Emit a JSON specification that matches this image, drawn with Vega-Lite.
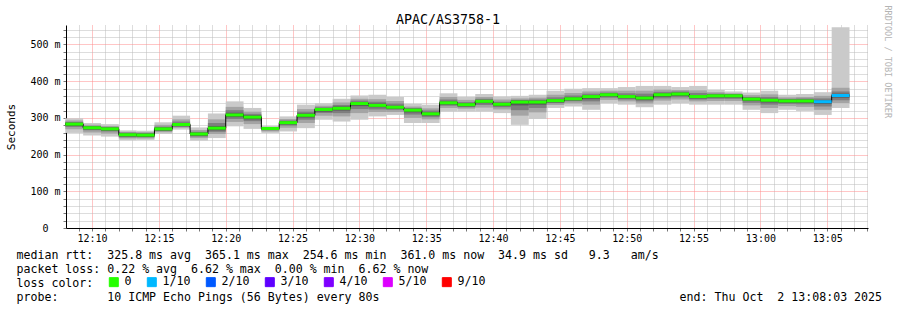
{
  "$schema": "https://vega.github.io/schema/vega-lite/v6.json",
  "width": 802,
  "height": 203,
  "autosize": {"type": "none"},
  "padding": {"left": 66, "top": 25, "right": 29, "bottom": 82},
  "background": "white",
  "config": {"view": {"stroke": null}, "font": "DejaVu Sans Mono"},
  "title": {"text": "APAC/AS3758-1", "font": "DejaVu Sans Mono", "fontSize": 13.3, "fontWeight": "normal", "color": "black", "anchor": "middle", "frame": "group", "dx": -19, "offset": -32, "baseline": "alphabetic"},
  "data": {"values": [
    {"t": 8.000, "t2": 9.333, "med": 283, "p1": 259, "p2": 269, "p3": 275, "p4": 278, "p5": 280, "p6": 285, "p7": 287, "p8": 289, "p9": 293, "p10": 299, "loss": "0"},
    {"t": 9.333, "t2": 10.667, "med": 273, "p1": 252, "p2": 260, "p3": 266, "p4": 268, "p5": 270, "p6": 275, "p7": 277, "p8": 278, "p9": 281, "p10": 286, "loss": "0"},
    {"t": 10.667, "t2": 12.000, "med": 270, "p1": 249, "p2": 257, "p3": 263, "p4": 265, "p5": 267, "p6": 272, "p7": 274, "p8": 275, "p9": 278, "p10": 283, "loss": "0"},
    {"t": 12.000, "t2": 13.333, "med": 254, "p1": 239, "p2": 244, "p3": 247, "p4": 249, "p5": 251, "p6": 256, "p7": 258, "p8": 260, "p9": 262, "p10": 266, "loss": "0"},
    {"t": 13.333, "t2": 14.667, "med": 253, "p1": 240, "p2": 244, "p3": 247, "p4": 248, "p5": 250, "p6": 255, "p7": 257, "p8": 259, "p9": 261, "p10": 265, "loss": "0"},
    {"t": 14.667, "t2": 16.000, "med": 270, "p1": 256, "p2": 261, "p3": 264, "p4": 265, "p5": 267, "p6": 272, "p7": 274, "p8": 276, "p9": 281, "p10": 288, "loss": "0"},
    {"t": 16.000, "t2": 17.333, "med": 282, "p1": 268, "p2": 273, "p3": 276, "p4": 277, "p5": 279, "p6": 284, "p7": 286, "p8": 290, "p9": 296, "p10": 306, "loss": "0"},
    {"t": 17.333, "t2": 18.667, "med": 256, "p1": 238, "p2": 245, "p3": 249, "p4": 251, "p5": 253, "p6": 258, "p7": 260, "p8": 262, "p9": 267, "p10": 274, "loss": "0"},
    {"t": 18.667, "t2": 20.000, "med": 272, "p1": 245, "p2": 256, "p3": 262, "p4": 266, "p5": 269, "p6": 274, "p7": 278, "p8": 286, "p9": 296, "p10": 312, "loss": "0"},
    {"t": 20.000, "t2": 21.333, "med": 308, "p1": 277, "p2": 289, "p3": 297, "p4": 302, "p5": 305, "p6": 310, "p7": 314, "p8": 321, "p9": 330, "p10": 345, "loss": "0"},
    {"t": 21.333, "t2": 22.667, "med": 302, "p1": 270, "p2": 283, "p3": 291, "p4": 296, "p5": 299, "p6": 304, "p7": 307, "p8": 311, "p9": 317, "p10": 327, "loss": "0"},
    {"t": 22.667, "t2": 24.000, "med": 271, "p1": 259, "p2": 263, "p3": 266, "p4": 267, "p5": 268, "p6": 273, "p7": 274, "p8": 275, "p9": 276, "p10": 277, "loss": "0"},
    {"t": 24.000, "t2": 25.333, "med": 287, "p1": 263, "p2": 273, "p3": 279, "p4": 282, "p5": 284, "p6": 289, "p7": 291, "p8": 293, "p9": 297, "p10": 304, "loss": "0"},
    {"t": 25.333, "t2": 26.667, "med": 307, "p1": 272, "p2": 286, "p3": 295, "p4": 301, "p5": 304, "p6": 309, "p7": 312, "p8": 317, "p9": 324, "p10": 336, "loss": "0"},
    {"t": 26.667, "t2": 28.000, "med": 323, "p1": 295, "p2": 306, "p3": 313, "p4": 317, "p5": 320, "p6": 325, "p7": 327, "p8": 329, "p9": 333, "p10": 340, "loss": "0"},
    {"t": 28.000, "t2": 29.333, "med": 326, "p1": 290, "p2": 304, "p3": 313, "p4": 320, "p5": 323, "p6": 328, "p7": 331, "p8": 335, "p9": 342, "p10": 352, "loss": "0"},
    {"t": 29.333, "t2": 30.667, "med": 339, "p1": 295, "p2": 313, "p3": 324, "p4": 332, "p5": 336, "p6": 341, "p7": 343, "p8": 347, "p9": 352, "p10": 361, "loss": "0"},
    {"t": 30.667, "t2": 32.000, "med": 334, "p1": 304, "p2": 316, "p3": 323, "p4": 329, "p5": 331, "p6": 336, "p7": 339, "p8": 344, "p9": 351, "p10": 363, "loss": "0"},
    {"t": 32.000, "t2": 33.333, "med": 329, "p1": 308, "p2": 316, "p3": 322, "p4": 325, "p5": 326, "p6": 331, "p7": 333, "p8": 339, "p9": 346, "p10": 357, "loss": "0"},
    {"t": 33.333, "t2": 34.667, "med": 321, "p1": 286, "p2": 300, "p3": 309, "p4": 315, "p5": 318, "p6": 323, "p7": 325, "p8": 327, "p9": 331, "p10": 338, "loss": "0"},
    {"t": 34.667, "t2": 36.000, "med": 311, "p1": 286, "p2": 296, "p3": 302, "p4": 306, "p5": 308, "p6": 313, "p7": 315, "p8": 320, "p9": 326, "p10": 336, "loss": "0"},
    {"t": 36.000, "t2": 37.333, "med": 341, "p1": 317, "p2": 327, "p3": 333, "p4": 336, "p5": 338, "p6": 343, "p7": 345, "p8": 350, "p9": 357, "p10": 367, "loss": "0"},
    {"t": 37.333, "t2": 38.667, "med": 336, "p1": 317, "p2": 325, "p3": 329, "p4": 331, "p5": 333, "p6": 338, "p7": 340, "p8": 343, "p9": 349, "p10": 357, "loss": "0"},
    {"t": 38.667, "t2": 40.000, "med": 345, "p1": 317, "p2": 328, "p3": 335, "p4": 340, "p5": 342, "p6": 347, "p7": 349, "p8": 352, "p9": 357, "p10": 365, "loss": "0"},
    {"t": 40.000, "t2": 41.333, "med": 337, "p1": 313, "p2": 323, "p3": 329, "p4": 332, "p5": 334, "p6": 339, "p7": 341, "p8": 344, "p9": 350, "p10": 358, "loss": "0"},
    {"t": 41.333, "t2": 42.667, "med": 343, "p1": 281, "p2": 306, "p3": 321, "p4": 334, "p5": 340, "p6": 345, "p7": 347, "p8": 349, "p9": 353, "p10": 360, "loss": "0"},
    {"t": 42.667, "t2": 44.000, "med": 343, "p1": 297, "p2": 315, "p3": 327, "p4": 336, "p5": 340, "p6": 345, "p7": 347, "p8": 350, "p9": 355, "p10": 363, "loss": "0"},
    {"t": 44.000, "t2": 45.333, "med": 347, "p1": 327, "p2": 335, "p3": 340, "p4": 342, "p5": 344, "p6": 349, "p7": 351, "p8": 356, "p9": 363, "p10": 374, "loss": "0"},
    {"t": 45.333, "t2": 46.667, "med": 352, "p1": 331, "p2": 339, "p3": 345, "p4": 347, "p5": 349, "p6": 354, "p7": 356, "p8": 361, "p9": 368, "p10": 379, "loss": "0"},
    {"t": 46.667, "t2": 48.000, "med": 358, "p1": 322, "p2": 336, "p3": 345, "p4": 351, "p5": 355, "p6": 360, "p7": 362, "p8": 366, "p9": 372, "p10": 381, "loss": "0"},
    {"t": 48.000, "t2": 49.333, "med": 363, "p1": 340, "p2": 349, "p3": 355, "p4": 358, "p5": 360, "p6": 365, "p7": 367, "p8": 369, "p9": 374, "p10": 381, "loss": "0"},
    {"t": 49.333, "t2": 50.667, "med": 358, "p1": 336, "p2": 345, "p3": 350, "p4": 353, "p5": 355, "p6": 360, "p7": 362, "p8": 367, "p9": 374, "p10": 384, "loss": "0"},
    {"t": 50.667, "t2": 52.000, "med": 354, "p1": 329, "p2": 339, "p3": 345, "p4": 349, "p5": 351, "p6": 356, "p7": 359, "p8": 366, "p9": 374, "p10": 387, "loss": "0"},
    {"t": 52.000, "t2": 53.333, "med": 363, "p1": 336, "p2": 347, "p3": 353, "p4": 357, "p5": 360, "p6": 365, "p7": 367, "p8": 371, "p9": 377, "p10": 387, "loss": "0"},
    {"t": 53.333, "t2": 54.667, "med": 365, "p1": 340, "p2": 350, "p3": 356, "p4": 360, "p5": 362, "p6": 367, "p7": 369, "p8": 372, "p9": 376, "p10": 384, "loss": "0"},
    {"t": 54.667, "t2": 56.000, "med": 358, "p1": 336, "p2": 345, "p3": 350, "p4": 353, "p5": 355, "p6": 360, "p7": 362, "p8": 368, "p9": 375, "p10": 387, "loss": "0"},
    {"t": 56.000, "t2": 57.333, "med": 360, "p1": 336, "p2": 346, "p3": 352, "p4": 355, "p5": 357, "p6": 362, "p7": 364, "p8": 366, "p9": 370, "p10": 376, "loss": "0"},
    {"t": 57.333, "t2": 58.667, "med": 360, "p1": 336, "p2": 346, "p3": 352, "p4": 355, "p5": 357, "p6": 362, "p7": 364, "p8": 365, "p9": 367, "p10": 372, "loss": "0"},
    {"t": 58.667, "t2": 60.000, "med": 351, "p1": 322, "p2": 334, "p3": 341, "p4": 346, "p5": 348, "p6": 353, "p7": 355, "p8": 357, "p9": 362, "p10": 369, "loss": "0"},
    {"t": 60.000, "t2": 61.333, "med": 348, "p1": 313, "p2": 327, "p3": 336, "p4": 342, "p5": 345, "p6": 350, "p7": 352, "p8": 357, "p9": 364, "p10": 374, "loss": "0"},
    {"t": 61.333, "t2": 62.667, "med": 346, "p1": 322, "p2": 332, "p3": 338, "p4": 341, "p5": 343, "p6": 348, "p7": 350, "p8": 352, "p9": 356, "p10": 363, "loss": "0"},
    {"t": 62.667, "t2": 64.000, "med": 346, "p1": 319, "p2": 330, "p3": 337, "p4": 341, "p5": 343, "p6": 348, "p7": 350, "p8": 353, "p9": 357, "p10": 365, "loss": "0"},
    {"t": 64.000, "t2": 65.333, "med": 344, "p1": 308, "p2": 322, "p3": 331, "p4": 338, "p5": 341, "p6": 346, "p7": 348, "p8": 353, "p9": 360, "p10": 370, "loss": "1/10"},
    {"t": 65.333, "t2": 66.667, "med": 361, "p1": 327, "p2": 340, "p3": 348, "p4": 355, "p5": 358, "p6": 363, "p7": 366, "p8": 372, "p9": 382, "p10": 547, "loss": "1/10"}
  ]},
  "resolve": {"axis": {"x": "independent", "y": "independent"}},
  "layer": [
    {
      "mark": {"type": "rect", "color": "#cacaca"},
      "encoding": {
        "x": {"field": "t", "type": "quantitative", "scale": {"domain": [8.05, 68.05], "nice": false, "zero": false},
          "axis": {
            "orient": "bottom",
            "values": [9,10,11,12,13,14,15,16,17,18,19,20,21,22,23,24,25,26,27,28,29,30,31,32,33,34,35,36,37,38,39,40,41,42,43,44,45,46,47,48,49,50,51,52,53,54,55,56,57,58,59,60,61,62,63,64,65,66,67,68],
            "labelExpr": "datum.value % 5 === 0 ? (datum.value < 60 ? '12:' + datum.value : '13:0' + (datum.value - 60)) : ''",
            "labelFont": "DejaVu Sans Mono", "labelFontSize": 10, "labelColor": "black", "labelPadding": 2,
            "labelOverlap": false, "labelFlush": false,
            "grid": true,
            "gridColor": {"condition": {"test": "datum.value % 5 === 0", "value": "#ff8c8c"}, "value": "#bbbbbb"},
            "gridDash": [1, 1], "gridWidth": 1,
            "ticks": true, "tickSize": 3, "tickColor": "#777777",
            "domain": true, "domainColor": "black", "domainWidth": 1,
            "title": [
              "median rtt:\u00a0\u00a0325.8 ms avg\u00a0\u00a0365.1 ms max\u00a0\u00a0254.6 ms min\u00a0\u00a0361.0 ms now\u00a0\u00a034.9 ms sd\u00a0\u00a0\u00a09.3\u00a0\u00a0\u00a0am/s",
              "packet loss: 0.22 % avg\u00a0\u00a06.62 % max\u00a0\u00a00.00 % min\u00a0\u00a06.62 % now",
              "loss color:",
              "probe:\u00a0\u00a0\u00a0\u00a0\u00a0\u00a0\u00a010 ICMP Echo Pings (56 Bytes) every 80s\u00a0\u00a0\u00a0\u00a0\u00a0\u00a0\u00a0\u00a0\u00a0\u00a0\u00a0\u00a0\u00a0\u00a0\u00a0\u00a0\u00a0\u00a0\u00a0\u00a0\u00a0\u00a0\u00a0\u00a0\u00a0\u00a0\u00a0\u00a0\u00a0\u00a0\u00a0\u00a0\u00a0\u00a0\u00a0\u00a0\u00a0\u00a0\u00a0\u00a0\u00a0\u00a0\u00a0end: Thu Oct\u00a0\u00a02 13:08:03 2025"
            ],
            "titleFont": "DejaVu Sans Mono", "titleFontSize": 11.6, "titleFontWeight": "normal", "titleColor": "black",
            "titleX": -50, "titleY": 21, "titleAlign": "left", "titleAnchor": "start", "titleBaseline": "top", "titleLineHeight": 14
          }
        },
        "x2": {"field": "t2"},
        "y": {"field": "p1", "type": "quantitative", "scale": {"domain": [0, 553], "nice": false, "zero": false},
          "axis": {
            "orient": "left",
            "values": [0,20,40,60,80,100,120,140,160,180,200,220,240,260,280,300,320,340,360,380,400,420,440,460,480,500,520,540],
            "labelExpr": "datum.value % 100 === 0 ? (datum.value === 0 ? '0' : datum.value + ' m') : ''",
            "labelFont": "DejaVu Sans Mono", "labelFontSize": 10, "labelColor": "black",
            "labelPadding": {"condition": {"test": "datum.value === 0", "value": 15}, "value": 3},
            "labelOverlap": false, "labelFlush": false, "labelBaseline": "middle",
            "grid": true,
            "gridColor": {"condition": {"test": "datum.value % 100 === 0", "value": "#ff8c8c"}, "value": "#bbbbbb"},
            "gridDash": [1, 1], "gridWidth": 1,
            "ticks": true, "tickSize": 3, "tickColor": "#777777",
            "domain": true, "domainColor": "black", "domainWidth": 1,
            "title": "Seconds", "titleFont": "DejaVu Sans Mono", "titleFontSize": 11, "titleFontWeight": "normal", "titleColor": "black",
            "titleX": -55, "titleY": 101.5, "titleAngle": 270, "titleAlign": "center", "titleBaseline": "middle"
          }
        },
        "y2": {"field": "p10"}
      }
    },
    {
      "mark": {"type": "rect", "color": "#a4a4a4"},
      "encoding": {
        "x": {"field": "t", "type": "quantitative", "scale": {"domain": [8.05, 68.05], "nice": false, "zero": false}, "axis": null},
        "x2": {"field": "t2"},
        "y": {"field": "p2", "type": "quantitative", "scale": {"domain": [0, 553], "nice": false, "zero": false}, "axis": null},
        "y2": {"field": "p9"}
      }
    },
    {
      "mark": {"type": "rect", "color": "#7e7e7e"},
      "encoding": {
        "x": {"field": "t", "type": "quantitative", "scale": {"domain": [8.05, 68.05], "nice": false, "zero": false}, "axis": null},
        "x2": {"field": "t2"},
        "y": {"field": "p3", "type": "quantitative", "scale": {"domain": [0, 553], "nice": false, "zero": false}, "axis": null},
        "y2": {"field": "p8"}
      }
    },
    {
      "mark": {"type": "rect", "color": "#585858"},
      "encoding": {
        "x": {"field": "t", "type": "quantitative", "scale": {"domain": [8.05, 68.05], "nice": false, "zero": false}, "axis": null},
        "x2": {"field": "t2"},
        "y": {"field": "p4", "type": "quantitative", "scale": {"domain": [0, 553], "nice": false, "zero": false}, "axis": null},
        "y2": {"field": "p7"}
      }
    },
    {
      "mark": {"type": "rect", "color": "#323232"},
      "encoding": {
        "x": {"field": "t", "type": "quantitative", "scale": {"domain": [8.05, 68.05], "nice": false, "zero": false}, "axis": null},
        "x2": {"field": "t2"},
        "y": {"field": "p5", "type": "quantitative", "scale": {"domain": [0, 553], "nice": false, "zero": false}, "axis": null},
        "y2": {"field": "p6"}
      }
    },
    {
      "mark": {"type": "line", "color": "black", "strokeWidth": 1, "interpolate": "step-after"},
      "encoding": {
        "x": {"field": "t", "type": "quantitative", "scale": {"domain": [8.05, 68.05], "nice": false, "zero": false}, "axis": null},
        "y": {"field": "med", "type": "quantitative", "scale": {"domain": [0, 553], "nice": false, "zero": false},
          "axis": {
            "orient": "right", "labels": false, "ticks": false, "domain": false, "grid": false,
            "title": "RRDTOOL / TOBI OETIKER", "titleFont": "DejaVu Sans Mono", "titleFontSize": 8.5, "titleFontWeight": "normal",
            "titleColor": "#b4b4b4", "titleAngle": 90, "titleX": 19, "titleY": -20, "titleAlign": "left", "titleBaseline": "middle"
          }
        }
      }
    },
    {
      "mark": {"type": "rule", "strokeWidth": 3, "strokeCap": "butt"},
      "encoding": {
        "x": {"field": "t", "type": "quantitative", "scale": {"domain": [8.05, 68.05], "nice": false, "zero": false}, "axis": null},
        "x2": {"field": "t2"},
        "y": {"field": "med", "type": "quantitative", "scale": {"domain": [0, 553], "nice": false, "zero": false}, "axis": null},
        "color": {
          "field": "loss", "type": "nominal",
          "scale": {"domain": ["0", "1/10", "2/10", "3/10", "4/10", "5/10", "9/10"], "range": ["#26ff00", "#00b8ff", "#0059ff", "#5e00ff", "#7e00ff", "#dd00ff", "#ff0000"]},
          "legend": {
            "orient": "none", "legendX": 42, "legendY": 251, "direction": "horizontal", "padding": 0,
            "title": null,
            "symbolType": "square", "symbolSize": 81, "symbolStrokeWidth": 1, "symbolStrokeColor": "black",
            "labelFont": "DejaVu Sans Mono", "labelFontSize": 11.6, "labelColor": "black", "labelOffset": 5, "columnPadding": 13,
            "encode": {"symbols": {"update": {"fill": {"scale": "color", "field": "value"}, "stroke": {"value": "black"}, "strokeWidth": {"value": 1}, "opacity": {"value": 1}, "fillOpacity": {"value": 1}}}}
          }
        }
      }
    }
  ]
}
